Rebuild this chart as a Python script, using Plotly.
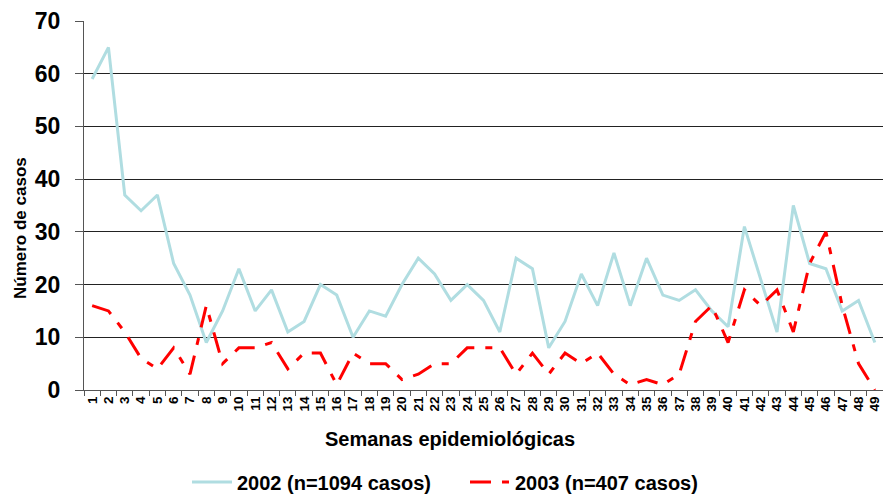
import plotly.graph_objects as go

weeks = list(range(1, 50))
week_labels = [str(w) for w in weeks]

cases_2002 = [59, 65, 37, 34, 37, 24, 18, 9, 15, 23, 15, 19, 11, 13, 20, 18, 10, 15, 14, 20,
              25, 22, 17, 20, 17, 11, 25, 23, 8, 13, 22, 16, 26, 16, 25, 18, 17, 19, 15, 12,
              31, 21, 11, 35, 24, 23, 15, 17, 9]
cases_2003 = [16, 15, 11, 6, 4, 8, 3, 16, 5, 8, 8, 9, 4, 7, 7, 1, 7, 5, 5, 2,
              3, 5, 5, 8, 8, 8, 3, 7, 3, 7, 5, 7, 3, 1, 2, 1, 3, 13, 16, 9,
              19, 16, 19, 11, 24, 30, 16, 5, 0]

name_2002 = "2002 (n=1094 casos)"
name_2003 = "2003 (n=407 casos)"
y_ticks = [0, 10, 20, 30, 40, 50, 60, 70]

FONT = "Liberation Sans, Arial, sans-serif"

fig = go.Figure()
fig.add_trace(go.Scatter(x=weeks, y=cases_2002, mode="lines", name=name_2002,
                         line=dict(color="#B0DDE1", width=3)))
fig.add_trace(go.Scatter(x=weeks, y=cases_2003, mode="lines", name=name_2003,
                         line=dict(color="#FF0000", width=3, dash="21px,11px,7px,11px")))

L, T, B = 84, 21, 104
fig.update_layout(
    width=883, height=494,
    margin=dict(l=L, r=0, t=T, b=B, autoexpand=False),
    paper_bgcolor="white", plot_bgcolor="white",
    font=dict(family=FONT, color="black"),
    showlegend=True,
    legend=dict(orientation="h", x=(187 - L) / 799, y=(390 - 482) / 369,
                xanchor="left", yanchor="middle",
                font=dict(size=20, family=FONT, color="black", weight="bold"),
                itemwidth=40, entrywidth=223, entrywidthmode="pixels",
                bgcolor="rgba(0,0,0,0)"),
    xaxis=dict(range=[0.5, 49.5], tickmode="array", tickvals=weeks, ticktext=week_labels,
               tickangle=-90, tickfont=dict(size=13.5, family=FONT, weight="bold"),
               ticklabeloverflow="allow",
               showgrid=False, zeroline=False, showline=True, linecolor="#555", linewidth=1,
               ticks="", automargin=False,
               minor=dict(tick0=0.5, dtick=1, ticks="outside", ticklen=5,
                          tickcolor="#555", tickwidth=1, showgrid=False)),
    yaxis=dict(range=[0, 70], tickmode="array", tickvals=y_ticks, automargin=False,
               tickfont=dict(size=23, family=FONT, weight="bold"),
               showgrid=True, gridcolor="#222", gridwidth=1, zeroline=False,
               showline=True, linecolor="#555", linewidth=1,
               ticks="outside", ticklen=8, tickcolor="#555", ticklabelstandoff=10),
    annotations=[
        dict(text="Semanas epidemiológicas", xref="paper", yref="paper",
             x=(450 - L) / 799, y=(390 - 439) / 369, xanchor="center", yanchor="middle",
             showarrow=False, font=dict(size=20, family=FONT, weight="bold", color="black")),
        dict(text="Número de casos", xref="paper", yref="paper",
             x=(20 - L) / 799, y=(390 - 228) / 369, xanchor="center", yanchor="middle",
             textangle=-90, showarrow=False,
             font=dict(size=17, family=FONT, weight="bold", color="black")),
    ],
)

fig.write_html(
    "out.html",
    config={"displayModeBar": False},
    post_script="document.body.style.margin='0';document.body.style.overflow='hidden';",
)
